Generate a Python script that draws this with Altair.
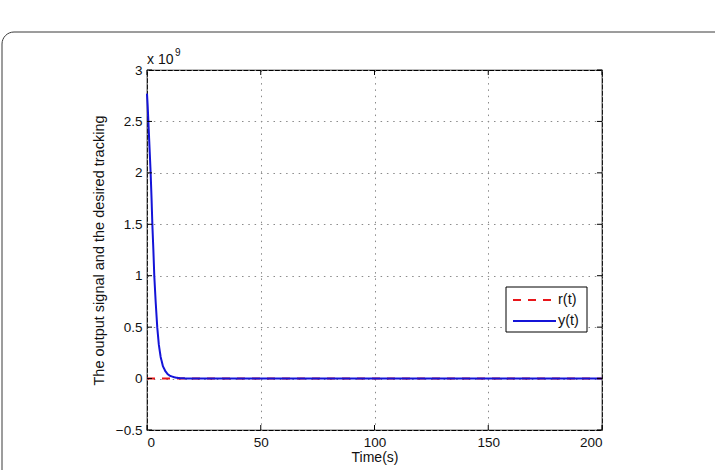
import altair as alt
import pandas as pd

# Data (y in units of 1e9)
t_y = [0, 0.3, 0.7, 1.1, 1.6, 2.0, 2.35, 2.8, 3.2, 3.8, 4.5, 5.2, 6.0, 7.0, 8.0, 9.0, 10.0, 12.0, 14.0, 17.0, 20.0, 30.0, 200.0]
y_vals = [2.77, 2.65, 2.45, 2.25, 2.0, 1.75, 1.5, 1.25, 1.0, 0.75, 0.5, 0.33, 0.21, 0.12, 0.075, 0.045, 0.028, 0.012, 0.005, 0.0015, 0.0, 0.0, 0.0]
t_r = [0, 200]
r_vals = [0, 0]
series_names = ["r(t)", "y(t)"]
series_colors = ["#e8161a", "#1414d8"]
series_dashes = [[8, 7], [1, 0]]

x_ticks = [0, 50, 100, 150, 200]
y_ticks = [-0.5, 0, 0.5, 1, 1.5, 2, 2.5, 3]

rows = [{"t": t, "v": v, "s": "r(t)"} for t, v in zip(t_r, r_vals)] + \
       [{"t": t, "v": v, "s": "y(t)"} for t, v in zip(t_y, y_vals)]
df = pd.DataFrame(rows)

W, H = 455, 360
FONT = "Liberation Sans"
GRID = dict(grid=True, gridColor="#8a8a8a", gridDash=[1.5, 4.8], gridWidth=1)

xs = alt.Scale(domain=[0, 200], nice=False, zero=False)
ys = alt.Scale(domain=[-0.5, 3], nice=False, zero=False)

lines = alt.Chart(df).mark_line(strokeWidth=2).encode(
    x=alt.X("t:Q", scale=xs,
            axis=alt.Axis(values=x_ticks, title="Time(s)", ticks=False, domain=False,
                          labelFontSize=13.5, labelFont=FONT, labelColor="#111",
                          labelPadding=5, titleFont=FONT, titleFontSize=14,
                          titleFontWeight="normal", titlePadding=2, titleColor="#111", **GRID)),
    y=alt.Y("v:Q", scale=ys,
            axis=alt.Axis(values=y_ticks, title="The output signal and the desired tracking",
                          ticks=False, domain=False,
                          labelExpr="datum.value < 0 ? '\u2212' + format(-datum.value, '') : format(datum.value, '')",
                          labelFontSize=13.5, labelFont=FONT, labelColor="#111",
                          labelPadding=5, titleFont=FONT, titleFontSize=14.5,
                          titleFontWeight="normal", titlePadding=9, titleColor="#111", **GRID)),
    color=alt.Color("s:N", scale=alt.Scale(domain=series_names, range=series_colors), legend=None),
    strokeDash=alt.StrokeDash("s:N", scale=alt.Scale(domain=series_names, range=series_dashes),
                              legend=None),
    order=alt.Order("t:Q"),
)

tick_df_x = pd.DataFrame({"t": x_ticks})
tick_df_y = pd.DataFrame({"v": y_ticks})
xt_bottom = alt.Chart(tick_df_x).mark_rule(color="#000").encode(
    x=alt.X("t:Q", scale=xs), y=alt.value(H), y2=alt.value(H - 5))
xt_top = alt.Chart(tick_df_x).mark_rule(color="#000").encode(
    x=alt.X("t:Q", scale=xs), y=alt.value(0), y2=alt.value(5))
yt_left = alt.Chart(tick_df_y).mark_rule(color="#000").encode(
    y=alt.Y("v:Q", scale=ys), x=alt.value(0), x2=alt.value(5))
yt_right = alt.Chart(tick_df_y).mark_rule(color="#000").encode(
    y=alt.Y("v:Q", scale=ys), x=alt.value(W), x2=alt.value(W - 5))

one = pd.DataFrame({"a": [1]})
exp_main = alt.Chart(one).mark_text(
    text="x 10", font=FONT, fontSize=14, align="left", baseline="alphabetic", color="#111"
).encode(x=alt.value(0), y=alt.value(-6))
exp_sup = alt.Chart(one).mark_text(
    text="9", font=FONT, fontSize=10, align="left", baseline="alphabetic", color="#111"
).encode(x=alt.value(28), y=alt.value(-14))

frame = alt.Chart(one).mark_rect(
    fill=None, stroke="#3a3a3a", strokeWidth=1, cornerRadius=12
).encode(x=alt.value(-145), x2=alt.value(620), y=alt.value(-38), y2=alt.value(430))

# legend (box, sample lines, labels)
LX, LY = 359, 217
leg_box = alt.Chart(one).mark_rect(fill="#fff", stroke="#000", strokeWidth=1).encode(
    x=alt.value(LX), x2=alt.value(LX + 81), y=alt.value(LY), y2=alt.value(LY + 45))
leg_items = []
for i, (name, col, dash) in enumerate(zip(series_names, series_colors, series_dashes)):
    yy = LY + 13 + i * 21
    leg_items.append(alt.Chart(one).mark_rule(color=col, strokeWidth=2, strokeDash=dash).encode(
        x=alt.value(LX + 7), x2=alt.value(LX + 50), y=alt.value(yy)))
    leg_items.append(alt.Chart(one).mark_text(
        text=name, font=FONT, fontSize=14.5, align="left", baseline="middle", color="#111"
    ).encode(x=alt.value(LX + 52), y=alt.value(yy)))

chart = alt.layer(frame, lines, xt_bottom, xt_top, yt_left, yt_right, exp_main, exp_sup,
                  leg_box, *leg_items).properties(
    width=W, height=H,
    padding={"left": 147, "top": 70, "right": 113, "bottom": 40},
    autosize=alt.AutoSizeParams(type="none"),
    background="white",
).configure_view(stroke="#000", strokeWidth=1.2)

chart.save("out.html", embed_options={"renderer": "svg", "actions": False})
